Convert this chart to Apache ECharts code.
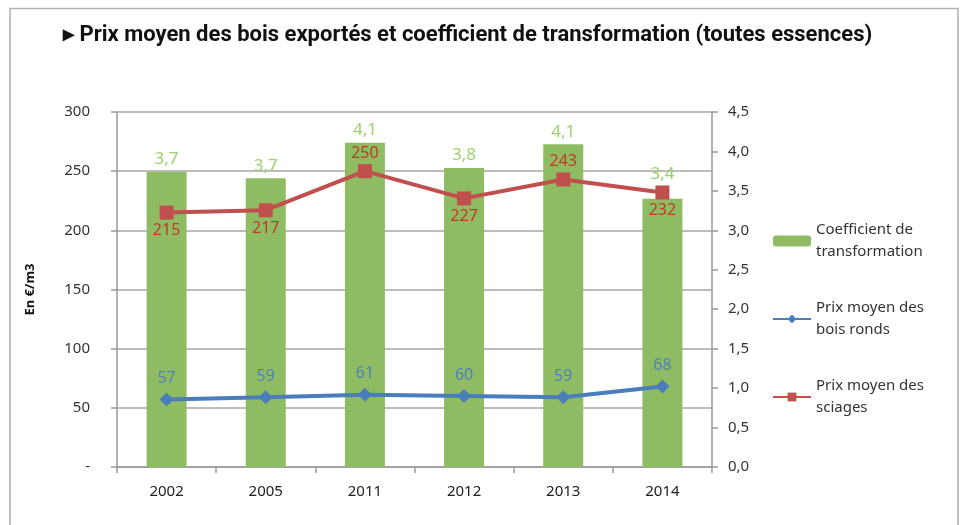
<!DOCTYPE html>
<html>
<head>
<meta charset="utf-8">
<script src="https://cdn.jsdelivr.net/npm/echarts@6/dist/echarts.min.js"></script>
<style>
  html, body { margin: 0; padding: 0; background: #fff; }
  #chart { width: 965px; height: 525px; }
</style>
</head>
<body>
<div id="chart"></div>
<script>
const years = ['2002', '2005', '2011', '2012', '2013', '2014'];
const coefTransfo = [3.74, 3.66, 4.11, 3.79, 4.09, 3.40];
const prixBoisRonds = [57, 59, 61, 60, 59, 68];
const prixSciages = [215, 217, 250, 227, 243, 232];
// position du label rouge : au-dessus ou en dessous du point
const sciagesLabelPos = ['bottom', 'bottom', 'top', 'bottom', 'top', 'bottom'];
// le label 3,4 est poussé au-dessus du carré rouge
const coefLabelGap = [4, 4, 4, 4, 4, 16];
const leftTicks = ['-', '50', '100', '150', '200', '250', '300'];

const font = 'Noto Sans';
const chart = echarts.init(document.getElementById('chart'));

const option = {
  animation: false,
  textStyle: { fontFamily: font },
  title: {
    text: '\u25B8 Prix moyen des bois exportés et coefficient de transformation (toutes essences)',
    left: 58,
    top: 19,
    textStyle: { fontFamily: 'Roboto', fontWeight: 'bold', fontSize: 22, color: '#111' },
  },
  graphic: [
    {
      type: 'polyline',
      shape: { points: [[10, 525], [10, 8.5], [958, 8.5], [958, 525]] },
      style: { stroke: '#b0b0b0', lineWidth: 1.5, fill: null },
    },
  ],
  legend: {
    orient: 'vertical',
    left: 767,
    top: 214,
    itemWidth: 38,
    itemHeight: 11,
    itemGap: 34,
    textStyle: { fontFamily: font, fontSize: 15, color: '#333', lineHeight: 22 },
    formatter: (name) => ({
      'Coefficient de transformation': 'Coefficient de\ntransformation',
      'Prix moyen des bois ronds': 'Prix moyen des\nbois ronds',
      'Prix moyen des sciages': 'Prix moyen des\nsciages',
    }[name]),
    data: ['Coefficient de transformation', 'Prix moyen des bois ronds', 'Prix moyen des sciages'],
  },
  grid: { left: 117, right: 253, top: 112, bottom: 58 },
  xAxis: {
    type: 'category',
    data: years,
    axisLine: { lineStyle: { color: '#999', width: 1.5 } },
    axisTick: { show: true, length: 6, lineStyle: { color: '#999', width: 1.5 } },
    axisLabel: { color: '#222', fontSize: 15, margin: 17, fontFamily: font },
  },
  yAxis: [
    {
      type: 'value',
      min: 0,
      max: 300,
      interval: 50,
      name: 'En €/m3',
      nameLocation: 'middle',
      nameGap: 80,
      nameRotate: 90,
      nameTextStyle: { fontFamily: font, fontWeight: 'bold', fontSize: 13, color: '#111' },
      axisLine: { show: true, lineStyle: { color: '#999', width: 1.5 } },
      axisTick: { show: true, length: 6, lineStyle: { color: '#999', width: 1.5 } },
      axisLabel: {
        color: '#333',
        fontSize: 15,
        margin: 27,
        formatter: (v) => leftTicks[Math.round(v / 50)],
      },
      splitLine: { show: true, lineStyle: { color: '#a6a6a6', width: 1.5 } },
    },
    {
      type: 'value',
      min: 0,
      max: 4.5,
      interval: 0.5,
      axisLine: { show: true, lineStyle: { color: '#999', width: 1.5 } },
      axisTick: { show: true, length: 6, lineStyle: { color: '#999', width: 1.5 } },
      axisLabel: {
        color: '#333',
        fontSize: 15,
        margin: 16,
        formatter: (v) => v.toFixed(1).replace('.', ','),
      },
      splitLine: { show: false },
    },
  ],
  series: [
    {
      name: 'Coefficient de transformation',
      type: 'bar',
      yAxisIndex: 1,
      barWidth: 40,
      data: coefTransfo.map((v, i) => ({
        value: v,
        label: { distance: coefLabelGap[i] },
      })),
      itemStyle: { color: '#8fbc62' },
      label: {
        show: true,
        position: 'top',
        color: '#9dd070',
        fontSize: 17,
        formatter: (p) => p.value.toFixed(1).replace('.', ','),
      },
      z: 1,
    },
    {
      name: 'Prix moyen des bois ronds',
      type: 'line',
      data: prixBoisRonds,
      symbol: 'diamond',
      symbolSize: 14,
      lineStyle: { color: '#4a7ebb', width: 4 },
      itemStyle: { color: '#4a7ebb' },
      label: { show: true, position: 'top', distance: 6, color: '#4f81bd', fontSize: 16 },
      z: 3,
    },
    {
      name: 'Prix moyen des sciages',
      type: 'line',
      data: prixSciages.map((v, i) => ({
        value: v,
        label: { position: sciagesLabelPos[i] },
      })),
      symbol: 'rect',
      symbolSize: 14,
      lineStyle: { color: '#c0504d', width: 4 },
      itemStyle: { color: '#c0504d' },
      label: { show: true, distance: 3, color: '#c0392b', fontSize: 16 },
      z: 3,
    },
  ],
};

chart.setOption(option);
</script>
</body>
</html>
